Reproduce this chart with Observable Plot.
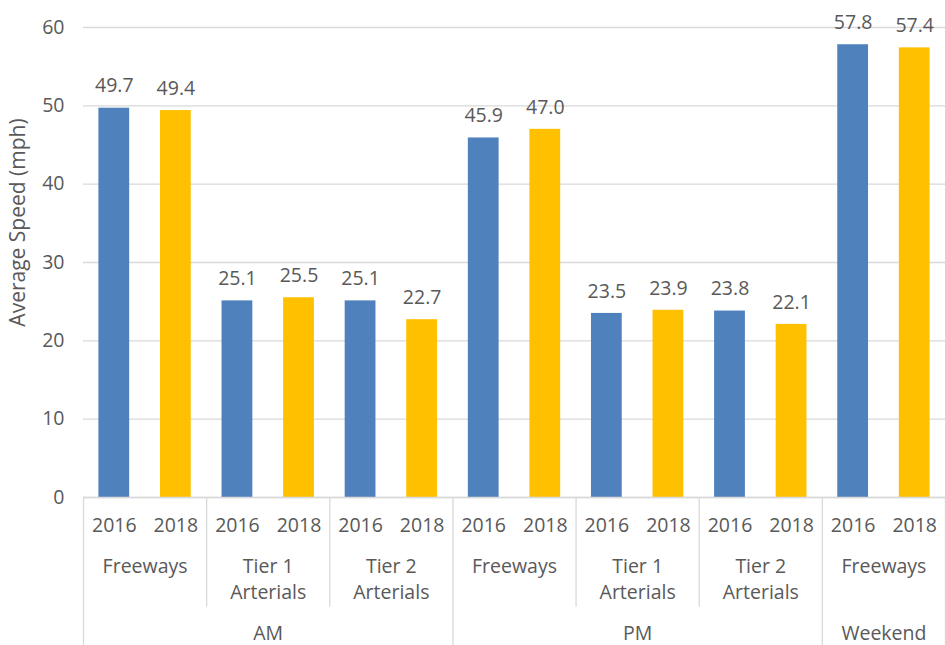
<!DOCTYPE html>
<html>
<head>
<meta charset="utf-8">
<script src="https://cdn.jsdelivr.net/npm/d3@7"></script>
<script src="https://cdn.jsdelivr.net/npm/@observablehq/plot@0.6"></script>
<style>
  html, body { margin: 0; padding: 0; background: #fff; }
  #chart svg { display: block; }
</style>
</head>
<body>
<div id="chart"></div>
<script>
const periods = ["AM", "AM", "AM", "PM", "PM", "PM", "Weekend"];
const roadTypes = ["Freeways", "Tier 1\nArterials", "Tier 2\nArterials", "Freeways", "Tier 1\nArterials", "Tier 2\nArterials", "Freeways"];
const years = ["2016", "2018"];
const speeds2016 = [49.7, 25.1, 25.1, 45.9, 23.5, 23.8, 57.8];
const speeds2018 = [49.4, 25.5, 22.7, 47.0, 23.9, 22.1, 57.4];
const yTicks = [0, 10, 20, 30, 40, 50, 60];
const yTitle = "Average Speed (mph)";

const rows = [];
roadTypes.forEach((r, g) => {
  rows.push({i: 2 * g, group: g, period: periods[g], road: r, year: years[0], value: speeds2016[g]});
  rows.push({i: 2 * g + 1, group: g, period: periods[g], road: r, year: years[1], value: speeds2018[g]});
});
const groups = roadTypes.map((r, g) => ({g, road: r, period: periods[g]}));
const periodSpans = [];
periods.forEach((p, g) => {
  const last = periodSpans[periodSpans.length - 1];
  if (last && last.period === p) last.end = 2 * g + 2;
  else periodSpans.push({period: p, start: 2 * g, end: 2 * g + 2});
});
const shortLines = [];
const longLines = [];
groups.forEach((d, g) => {
  if (g === 0 || periods[g] !== periods[g - 1]) longLines.push(2 * g);
  else shortLines.push(2 * g);
});
longLines.push(2 * groups.length);

const colors = {"2016": "#4F81BD", "2018": "#FFC000"};
const font = "'Open Sans', sans-serif";
const grey = "#595959";
const fs = 19.5;

const chart = Plot.plot({
  width: 945,
  height: 645,
  marginLeft: 83,
  marginRight: 0,
  marginTop: 27,
  marginBottom: 148,
  style: {fontFamily: font, fontSize: fs + "px", color: grey, background: "#fff"},
  x: {type: "linear", domain: [0, 2 * groups.length], axis: null},
  y: {domain: [0, 60], clamp: false},
  marks: [
    Plot.gridY(yTicks, {stroke: "#d9d9d9", strokeOpacity: 1, strokeWidth: 1.3}),
    Plot.axisY(yTicks, {tickSize: 0, tickPadding: 19, fontSize: fs, fill: grey, label: null}),
    Plot.text([yTitle], {frameAnchor: "left", textAnchor: "middle", rotate: -90, dx: -65, dy: -40, fill: grey, fontSize: 21}),
    Plot.rectY(rows, {x1: d => d.i + 0.25, x2: d => d.i + 0.75, y1: 0, y2: "value", fill: d => colors[d.year]}),
    Plot.text(rows, {x: d => d.i + 0.5, y: "value", text: d => d.value.toFixed(1), dy: -22, fill: grey, fontSize: fs}),
    Plot.ruleY([0], {stroke: "#d9d9d9", strokeWidth: 1.3}),
    Plot.ruleX(shortLines, {x: d => d, y1: 0, y2: -14, stroke: "#d9d9d9", strokeWidth: 1.3, clip: false}),
    Plot.ruleX(longLines, {x: d => d, y1: 0, y2: -19.5, stroke: "#d9d9d9", strokeWidth: 1.3, clip: false}),
    Plot.text(rows, {x: d => d.i + 0.5, y: 0, text: "year", dy: 28, fill: grey, fontSize: fs, clip: false}),
    Plot.text(groups, {x: d => 2 * d.g + 1, y: 0, text: "road", dy: 57, lineAnchor: "top", lineHeight: 1.33, fill: grey, fontSize: fs, clip: false}),
    Plot.text(periodSpans, {x: d => (d.start + d.end) / 2, y: 0, text: "period", dy: 136, fill: grey, fontSize: fs, clip: false})
  ]
});
document.getElementById("chart").appendChild(chart);
</script>
</body>
</html>
